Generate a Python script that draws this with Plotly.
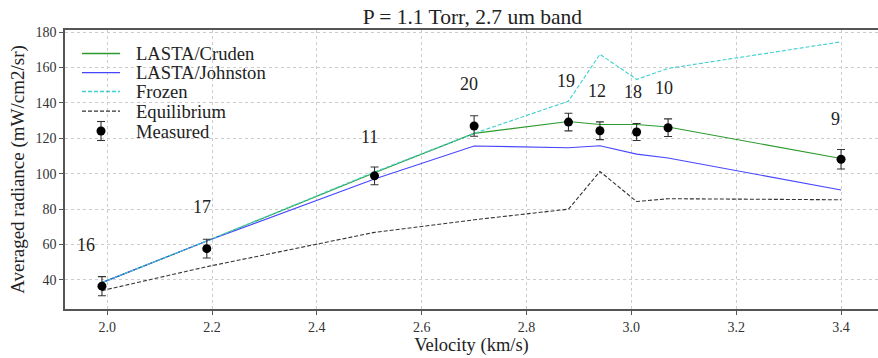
import plotly.graph_objects as go

velocity = [1.99, 2.19, 2.51, 2.70, 2.88, 2.94, 3.01, 3.07, 3.40]
measured = [36.5, 57.7, 98.8, 127.0, 129.2, 124.3, 123.6, 126.0, 108.2]
measured_err = [5.4, 5.3, 5.0, 5.8, 5.0, 5.0, 4.8, 5.0, 5.5]
cruden = [38.5, 62.0, 100.5, 122.8, 129.5, 127.8, 127.8, 126.4, 108.6]
johnston = [38.5, 62.0, 97.0, 115.7, 114.7, 115.8, 111.1, 108.9, 90.8]
frozen = [38.5, 62.0, 101.0, 122.8, 141.0, 167.5, 153.3, 159.5, 174.5]
equilibrium = [34.0, 47.5, 66.9, 74.0, 80.0, 101.3, 84.3, 85.9, 85.3]
shot_labels = ["16", "17", "11", "20", "19", "12", "18", "10", "9"]
label_x = [1.96, 2.18, 2.50, 2.69, 2.875, 2.935, 3.003, 3.063, 3.39]
label_y = [60, 81, 121, 150.5, 152.5, 147, 146, 148.5, 131]

series_names = ["LASTA/Cruden", "LASTA/Johnston", "Frozen", "Equilibrium", "Measured"]
series_colors = ["#2e9a2e", "#4646ff", "#3fcfcf", "#333333", "black"]
series_dash = ["solid", "solid", "4px,2px", "4px,2px", None]

FONT = "Liberation Serif, Times New Roman, serif"

W, H = 878, 358
ML, MR, MT, MB = 65, 0, 30, 49
PW, PH = W - ML - MR, H - MT - MB


def px_x(p):
    return (p - ML) / PW


def px_y(p):
    return (H - MB - p) / PH


fig = go.Figure()
line_series = [cruden, johnston, frozen, equilibrium]
for name, ys, col, dsh in zip(series_names[:4], line_series, series_colors[:4], series_dash[:4]):
    fig.add_trace(go.Scatter(x=velocity, y=ys, mode="lines", name=name,
                             line=dict(color=col, width=1.1, dash=dsh), showlegend=False))
fig.add_trace(go.Scatter(x=velocity, y=measured, mode="markers", name="Measured",
                         marker=dict(color="black", size=9), showlegend=False,
                         error_y=dict(type="data", array=measured_err, color="#333333",
                                      thickness=1.1, width=4)))

for lx, ly, t in zip(label_x, label_y, shot_labels):
    fig.add_annotation(x=lx, y=ly, text=t, showarrow=False,
                       font=dict(family=FONT, size=18, color="#222"))

# custom legend (pixel layout converted to paper coordinates)
leg_rows = [53.5, 72.7, 91.5, 111.2, 131.0]
for i, (name, col, dsh) in enumerate(zip(series_names, series_colors, series_dash)):
    yy = px_y(leg_rows[i])
    if dsh is not None:
        fig.add_shape(type="line", xref="paper", yref="paper",
                      x0=px_x(82), x1=px_x(120), y0=yy, y1=yy,
                      line=dict(color=col, width=1.3, dash=dsh))
    else:
        fig.add_shape(type="line", xref="paper", yref="paper",
                      x0=px_x(101), x1=px_x(101), y0=px_y(121.5), y1=px_y(140.5),
                      line=dict(color="#333333", width=1.1))
        for cy in (121.5, 140.5):
            fig.add_shape(type="line", xref="paper", yref="paper",
                          x0=px_x(97), x1=px_x(105), y0=px_y(cy), y1=px_y(cy),
                          line=dict(color="#333333", width=1.1))
        fig.add_shape(type="circle", xref="paper", yref="paper",
                      x0=px_x(96.5), x1=px_x(105.5), y0=px_y(126.5), y1=px_y(135.5),
                      fillcolor="black", line=dict(color="black", width=0))
    fig.add_annotation(xref="paper", yref="paper", x=px_x(134), y=yy,
                       xanchor="left", yanchor="middle", text=name, showarrow=False,
                       font=dict(family=FONT, size=18.6, color="#222"))

axis_common = dict(showgrid=True, gridcolor="#cccccc", griddash="dot", gridwidth=1,
                   showline=True, linecolor="#555555", linewidth=1.5,
                   ticks="outside", ticklen=4, tickcolor="#555555",
                   tickfont=dict(family=FONT, size=14, color="#333"), zeroline=False)

fig.update_layout(
    width=W, height=H,
    margin=dict(l=ML, r=MR, t=MT, b=MB),
    paper_bgcolor="white", plot_bgcolor="white",
    font=dict(family=FONT),
    showlegend=False,
    title=dict(text="P = 1.1 Torr, 2.7 um band", x=0.538, xanchor="center",
               y=0.955, yanchor="middle",
               font=dict(family=FONT, size=21.5, color="#222")),
    xaxis=dict(range=[1.9195, 3.4705], tickvals=[2.0, 2.2, 2.4, 2.6, 2.8, 3.0, 3.2, 3.4],
               ticktext=["2.0", "2.2", "2.4", "2.6", "2.8", "3.0", "3.2", "3.4"],
               mirror=True,
               title=dict(text="Velocity (km/s)", font=dict(family=FONT, size=18.5, color="#222"),
                          standoff=3),
               **axis_common),
    yaxis=dict(range=[23.6, 181.2], tickvals=[40, 60, 80, 100, 120, 140, 160, 180],
               title=dict(text="Averaged radiance (mW/cm2/sr)",
                          font=dict(family=FONT, size=19, color="#222"), standoff=6),
               **axis_common),
)

fig.write_html("out.html")
